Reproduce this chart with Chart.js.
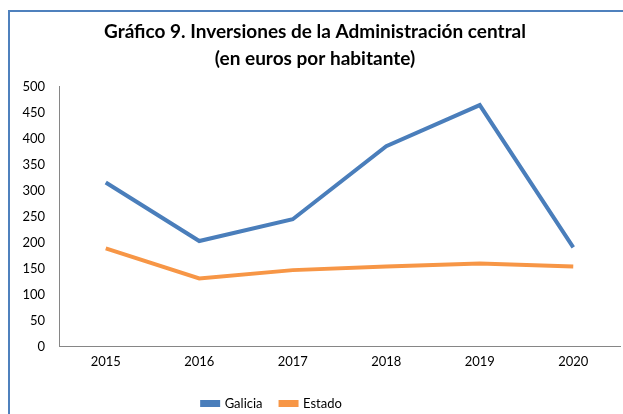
<!DOCTYPE html>
<html>
<head>
<meta charset="utf-8">
<script src="https://cdn.jsdelivr.net/npm/chart.js@4"></script>
<style>
  body { margin: 0; background: #fff; }
  #frame {
    position: absolute; left: 8px; top: 10px; width: 700px; height: 500px;
    border-left: 2px solid #4f81bd; border-top: 2px solid #4f81bd;
  }
  #wrap { position: absolute; left: 0; top: 0; width: 623px; height: 414px; }
</style>
</head>
<body>
<div id="frame"></div>
<div id="wrap"><canvas id="grafico"></canvas></div>
<script>
const years = ['2015', '2016', '2017', '2018', '2019', '2020'];
const galicia = [316, 203, 245, 386, 465, 191];
const estado = [189, 131, 147, 154, 160, 154];

const fontFamily = 'Lato, "Open Sans", sans-serif';

// the legend is not centred under the chart, nudge it to the left
const legendShift = {
    id: 'legendShift',
    afterLayout(chart) {
        chart.legend.left -= 43;
        chart.legend.right -= 43;
    }
};

window.onload = function() {
    const ctx = document.getElementById('grafico').getContext('2d');
    new Chart(ctx, {
        type: 'line',
        data: {
            labels: years,
            datasets: [
                { label: 'Galicia', data: galicia, borderColor: '#4a7ebb', backgroundColor: '#4a7ebb',
                  borderWidth: 4, pointRadius: 0, tension: 0 },
                { label: 'Estado', data: estado, borderColor: '#f79646', backgroundColor: '#f79646',
                  borderWidth: 4, pointRadius: 0, tension: 0 }
            ]
        },
        options: {
            responsive: true,
            maintainAspectRatio: false,
            animation: false,
            // legend sits low, partly in the bottom padding
            layout: { padding: { left: 10, right: 3, top: 10, bottom: -6 } },
            plugins: {
                title: {
                    display: true,
                    text: ['Gráfico 9. Inversiones de la Administración central', '(en euros por habitante)'],
                    color: '#000',
                    font: { family: fontFamily, size: 19, weight: 'bold', lineHeight: 1.42 },
                    padding: { top: 8, bottom: 15 }
                },
                legend: {
                    position: 'bottom',
                    labels: {
                        color: '#000',
                        font: { family: fontFamily, size: 13 },
                        boxWidth: 16,
                        boxHeight: 3,
                        padding: 18
                    }
                },
                tooltip: { enabled: false }
            },
            scales: {
                x: {
                    offset: true,
                    grid: { display: false },
                    border: { color: '#868686', width: 1 },
                    ticks: { color: '#000', font: { family: fontFamily, size: 13 }, padding: 0 },
                    // extra room between the year labels and the legend
                    afterFit: function(scale) { scale.height += 9; }
                },
                y: {
                    min: 0,
                    max: 500,
                    grid: { display: false, drawTicks: false },
                    border: { color: '#868686', width: 1 },
                    ticks: { stepSize: 50, color: '#000', font: { family: fontFamily, size: 13 }, padding: 14 },
                    afterFit: function(scale) { scale.width = 49; }
                }
            }
        },
        plugins: [legendShift]
    });
};
</script>
</body>
</html>
